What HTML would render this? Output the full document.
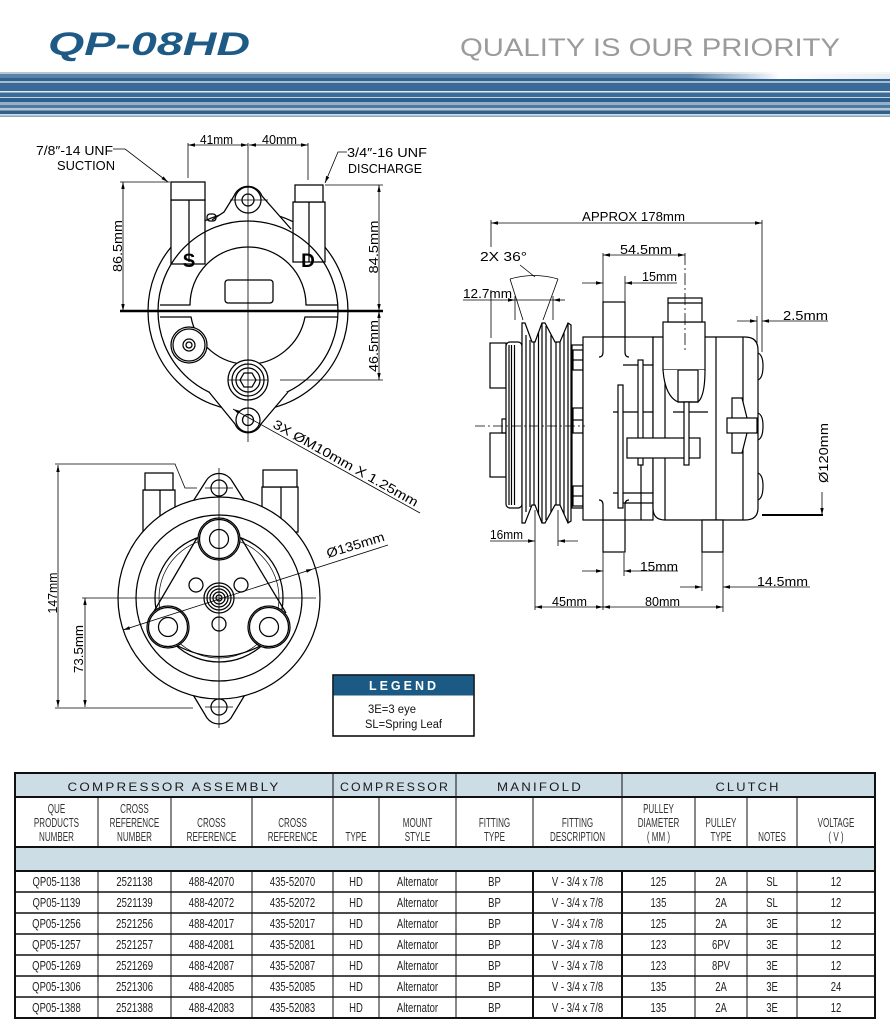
<!DOCTYPE html>
<html><head><meta charset="utf-8">
<style>
html,body{margin:0;padding:0;background:#fff;}
svg{display:block;}
text{font-family:"Liberation Sans",sans-serif;}
.dm{font-size:13px;fill:#000;stroke:none;}
.sh{font-size:13px;fill:#333;stroke:none;text-anchor:middle;}
.dt{font-size:12.5px;fill:#222;stroke:none;text-anchor:middle;}
.gh{font-size:12px;fill:#1a1a1a;stroke:none;text-anchor:middle;letter-spacing:2px;}
</style></head><body>
<svg width="890" height="1035" viewBox="0 0 890 1035" xmlns="http://www.w3.org/2000/svg">
<defs>
<marker id="ar" markerWidth="7" markerHeight="4" refX="7" refY="2" orient="auto-start-reverse" markerUnits="userSpaceOnUse"><path d="M0,0.3 L7,2 L0,3.7z" fill="#000"/></marker>
<linearGradient id="fade" x1="0" x2="1" y1="0" y2="0"><stop offset="0" stop-color="#fff" stop-opacity="0"/><stop offset="0.45" stop-color="#fff" stop-opacity="1"/><stop offset="1" stop-color="#fff" stop-opacity="0.85"/></linearGradient>
</defs>

<!-- HEADER -->
<text x="48" y="55" font-size="32" font-weight="bold" font-style="italic" fill="#1d5a86" textLength="202" lengthAdjust="spacingAndGlyphs">QP-08HD</text>
<text x="460" y="56" font-size="25" fill="#9b9b9b" textLength="380" lengthAdjust="spacingAndGlyphs">QUALITY IS OUR PRIORITY</text>
<g>
<rect x="0" y="72" width="890" height="2" fill="#b5c6d4"/>
<rect x="0" y="74" width="890" height="4" fill="#5d82a6"/>
<rect x="0" y="78" width="890" height="3" fill="#2f6192"/>
<rect x="0" y="81" width="890" height="2" fill="#a9bdcd"/>
<rect x="0" y="83" width="890" height="8" fill="#3a6a98"/>
<rect x="0" y="91" width="890" height="1.5" fill="#e2eaf0"/>
<rect x="0" y="92.5" width="890" height="4.5" fill="#3b6b97"/>
<rect x="0" y="97" width="890" height="1" fill="#c4d2de"/>
<rect x="0" y="98" width="890" height="4" fill="#2d5f8e"/>
<rect x="0" y="102" width="890" height="3" fill="#98b0c5"/>
<rect x="0" y="105" width="890" height="3" fill="#4e79a0"/>
<rect x="0" y="108" width="890" height="2.5" fill="#b5c6d3"/>
<rect x="0" y="110.5" width="890" height="3.5" fill="#2f608d"/>
<rect x="0" y="114" width="890" height="1.5" fill="#d0dbe4"/>
<rect x="0" y="115.5" width="890" height="1.5" fill="#8ea8bf"/>
<rect x="690" y="70" width="200" height="9" fill="url(#fade)"/>
</g>

<!-- TOP-LEFT VIEW -->
<g fill="none" stroke="#000" stroke-width="1.25">
<circle cx="248" cy="311" r="100"/>
<path d="M212 220 L224 212 L234 196 A15 15 0 0 1 262 196 L291 229" fill="#fff"/>
<circle cx="248" cy="200" r="13"/>
<circle cx="248" cy="200" r="6"/>
<line x1="230" y1="200" x2="268" y2="200" stroke-width="0.7"/>
<rect x="171" y="200" width="34" height="64" fill="#fff"/>
<rect x="171" y="182" width="34" height="18" fill="#fff"/>
<line x1="189" y1="200" x2="189" y2="262"/>
<rect x="293" y="202" width="32" height="60" fill="#fff"/>
<rect x="295" y="185" width="28" height="17" fill="#fff"/>
<line x1="309" y1="202" x2="309" y2="262"/>
<rect x="207" y="214" width="9" height="7" rx="3"/>
<circle cx="248" cy="311" r="90"/>
<path d="M160 305 L190 305 A58 58 0 0 1 306 305 L338 305"/>
<path d="M160 317 L191 317 A58 58 0 0 0 305 317 L338 317"/>
<rect x="225" y="280" width="48" height="23" rx="3"/>
<circle cx="189" cy="345" r="18" fill="#fff"/>
<circle cx="189" cy="345" r="16"/>
<circle cx="189" cy="345" r="6"/>
<circle cx="189" cy="345" r="3"/>
<path d="M209 392 L235 424 A14 14 0 0 0 261 424 L288 392" fill="#fff"/>
<circle cx="248" cy="380" r="20" fill="#fff"/>
<circle cx="248" cy="380" r="16"/>
<circle cx="248" cy="380" r="12"/>
<polygon points="256,380 252,387 244,387 240,380 244,373 252,373"/>
<line x1="228" y1="380" x2="268" y2="380" stroke-width="0.7"/>
<circle cx="248" cy="420" r="12" fill="#fff"/>
<circle cx="248" cy="420" r="5.5"/>
<line x1="248" y1="143" x2="248" y2="442" stroke-width="0.8"/>
<line x1="120" y1="311" x2="383" y2="311" stroke-width="2.4"/>
<!-- dims -->
<line x1="188" y1="143" x2="188" y2="178" stroke-width="0.8"/>
<line x1="308" y1="143" x2="308" y2="180" stroke-width="0.8"/>
<line x1="188" y1="145" x2="248" y2="145" stroke-width="0.8" marker-start="url(#ar)" marker-end="url(#ar)"/>
<line x1="249" y1="145" x2="308" y2="145" stroke-width="0.8" marker-start="url(#ar)" marker-end="url(#ar)"/>
<line x1="120" y1="182" x2="170" y2="182" stroke-width="0.8"/>
<line x1="123" y1="182" x2="123" y2="311" stroke-width="0.8" marker-start="url(#ar)" marker-end="url(#ar)"/>
<line x1="325" y1="185" x2="383" y2="185" stroke-width="0.8"/>
<line x1="379" y1="185" x2="379" y2="311" stroke-width="0.8" marker-start="url(#ar)" marker-end="url(#ar)"/>
<line x1="280" y1="380" x2="383" y2="380" stroke-width="0.8"/>
<line x1="379" y1="311" x2="379" y2="380" stroke-width="0.8" marker-start="url(#ar)" marker-end="url(#ar)"/>
<polyline points="113,149 125,149 168,182" stroke-width="0.8" marker-end="url(#ar)"/>
<polyline points="347,152 338,152 325,183" stroke-width="0.8" marker-end="url(#ar)"/>
<line x1="233" y1="409" x2="420" y2="513" stroke-width="0.8" marker-start="url(#ar)"/>
</g>
<g class="dm">
<text class="dm" x="36" y="155" textLength="77" lengthAdjust="spacingAndGlyphs">7/8″-14 UNF</text>
<text class="dm" x="57" y="170" textLength="58" lengthAdjust="spacingAndGlyphs">SUCTION</text>
<text class="dm" x="200" y="144" textLength="33" lengthAdjust="spacingAndGlyphs">41mm</text>
<text class="dm" x="262" y="144" textLength="35" lengthAdjust="spacingAndGlyphs">40mm</text>
<text class="dm" x="347" y="157" textLength="80" lengthAdjust="spacingAndGlyphs">3/4″-16 UNF</text>
<text class="dm" x="348" y="173" textLength="74" lengthAdjust="spacingAndGlyphs">DISCHARGE</text>
<text x="189" y="267" font-size="19" font-weight="bold" text-anchor="middle" fill="#000">S</text>
<text x="308" y="267" font-size="19" font-weight="bold" text-anchor="middle" fill="#000">D</text>
<text class="dm" transform="translate(122,246) rotate(-90)" text-anchor="middle" textLength="52" lengthAdjust="spacingAndGlyphs">86.5mm</text>
<text class="dm" transform="translate(378,247) rotate(-90)" text-anchor="middle" textLength="53" lengthAdjust="spacingAndGlyphs">84.5mm</text>
<text class="dm" transform="translate(378,346) rotate(-90)" text-anchor="middle" textLength="52" lengthAdjust="spacingAndGlyphs">46.5mm</text>
<text class="dm" transform="translate(272,427) rotate(29.2)" textLength="164" lengthAdjust="spacingAndGlyphs">3X ØM10mm X 1.25mm</text>
</g>

<!-- BOTTOM-LEFT VIEW -->
<g fill="none" stroke="#000" stroke-width="1.25">
<rect x="143" y="490" width="32" height="42" fill="#fff"/>
<rect x="145" y="473" width="28" height="17" fill="#fff"/>
<line x1="160" y1="490" x2="160" y2="532"/>
<rect x="262" y="487" width="36" height="45" fill="#fff"/>
<rect x="263" y="470" width="34" height="17" fill="#fff"/>
<line x1="281" y1="487" x2="281" y2="532"/>
<path d="M192 503 L206 481 A15 15 0 0 1 232 481 L246 503" fill="#fff"/>
<path d="M192 693 L207 718 A15 15 0 0 0 231 718 L246 693" fill="#fff"/>
<circle cx="219" cy="598" r="101" fill="#fff"/>
<circle cx="219" cy="598" r="83"/>
<circle cx="219" cy="598" r="64"/>
<circle cx="219" cy="598" r="60" stroke-width="0.7"/>
<line x1="197" y1="538" x2="153" y2="613"/>
<line x1="241" y1="538" x2="286" y2="613"/>
<path d="M176 645 Q219 668 262 645"/>
<circle cx="219" cy="539" r="21" fill="#fff"/>
<circle cx="219" cy="539" r="19.5"/>
<circle cx="219" cy="539" r="9.5"/>
<circle cx="168" cy="627" r="21" fill="#fff"/>
<circle cx="168" cy="627" r="19.5"/>
<circle cx="168" cy="627" r="9.5"/>
<circle cx="269" cy="627" r="21" fill="#fff"/>
<circle cx="269" cy="627" r="19.5"/>
<circle cx="269" cy="627" r="9.5"/>
<circle cx="196" cy="585" r="7"/>
<circle cx="241" cy="585" r="7"/>
<circle cx="219" cy="624" r="7"/>
<circle cx="219" cy="598" r="15" fill="#fff"/>
<circle cx="219" cy="598" r="12"/>
<circle cx="219" cy="598" r="9"/>
<circle cx="219" cy="598" r="6"/>
<circle cx="219" cy="598" r="3"/>
<circle cx="219" cy="488" r="8" fill="#fff"/>
<circle cx="219" cy="707" r="8" fill="#fff"/>
<line x1="219" y1="468" x2="219" y2="728" stroke-width="0.8"/>
<line x1="82" y1="598" x2="316" y2="598" stroke-width="0.8"/>
<line x1="205" y1="488" x2="233" y2="488" stroke-width="0.7"/>
<line x1="205" y1="707" x2="233" y2="707" stroke-width="0.7"/>
<polyline points="55,464 175,464 185,488 197,488" stroke-width="0.8"/>
<line x1="58" y1="465" x2="58" y2="707" stroke-width="0.8" marker-start="url(#ar)" marker-end="url(#ar)"/>
<line x1="55" y1="708" x2="193" y2="708" stroke-width="0.8"/>
<line x1="85" y1="598" x2="85" y2="707" stroke-width="0.8" marker-start="url(#ar)" marker-end="url(#ar)"/>
<line x1="123" y1="630" x2="313" y2="569" stroke-width="0.8" marker-start="url(#ar)" marker-end="url(#ar)"/>
<line x1="313" y1="569" x2="388" y2="545" stroke-width="0.8"/>
</g>
<text class="dm" transform="translate(57,593) rotate(-90)" text-anchor="middle" textLength="41" lengthAdjust="spacingAndGlyphs">147mm</text>
<text class="dm" transform="translate(83,649) rotate(-90)" text-anchor="middle" textLength="48" lengthAdjust="spacingAndGlyphs">73.5mm</text>
<text class="dm" transform="translate(328,558) rotate(-17)" textLength="60" lengthAdjust="spacingAndGlyphs">Ø135mm</text>

<!-- LEGEND -->
<rect x="333" y="675" width="141" height="61" fill="#fff" stroke="#000" stroke-width="1.5"/>
<rect x="333.5" y="675.5" width="140" height="20" fill="#1b5a84"/>
<text x="404" y="690" font-size="12.5" font-weight="bold" fill="#fff" text-anchor="middle" letter-spacing="3">LEGEND</text>
<text x="368" y="713" font-size="11.5" fill="#111" textLength="48" lengthAdjust="spacingAndGlyphs">3E=3 eye</text>
<text x="365" y="728" font-size="11.5" fill="#111" textLength="77" lengthAdjust="spacingAndGlyphs">SL=Spring Leaf</text>

<!-- RIGHT VIEW -->
<g fill="none" stroke="#000" stroke-width="1.2">
<rect x="490" y="343" width="16" height="45" fill="#fff"/>
<rect x="490" y="433" width="16" height="44" fill="#fff"/>
<rect x="502" y="419" width="4" height="14"/>
<rect x="506" y="342" width="16" height="166" rx="4" fill="#fff"/>
<line x1="509" y1="345" x2="509" y2="505"/>
<line x1="511.5" y1="345" x2="511.5" y2="505"/>
<line x1="514.5" y1="345" x2="514.5" y2="505"/>
<path d="M522 323 L525 323 L532 342 L535 342 L542 323 L545 323 L555 342 L560 342 L568 323 L571 325 L571 521 L568 523 L560 505 L555 505 L545 523 L542 523 L535 505 L532 505 L525 523 L522 523 Z" fill="#fff"/>
<line x1="526" y1="335" x2="526" y2="512"/>
<line x1="530" y1="340" x2="530" y2="507"/>
<line x1="534" y1="342" x2="534" y2="505"/>
<line x1="538.5" y1="332" x2="538.5" y2="515"/>
<line x1="542" y1="323" x2="542" y2="523"/>
<line x1="546" y1="326" x2="546" y2="520"/>
<line x1="551" y1="335" x2="551" y2="512"/>
<line x1="556" y1="342" x2="556" y2="505"/>
<line x1="560" y1="342" x2="560" y2="505"/>
<line x1="564" y1="333" x2="564" y2="514"/>
<line x1="568" y1="323" x2="568" y2="523"/>
<rect x="572" y="345" width="11" height="163" fill="#fff"/>
<rect x="573" y="350" width="10" height="20"/>
<rect x="573" y="408" width="10" height="25"/>
<rect x="573" y="486" width="10" height="20"/>
<line x1="573" y1="360" x2="583" y2="360"/>
<line x1="573" y1="420" x2="583" y2="420"/>
<line x1="573" y1="496" x2="583" y2="496"/>
<rect x="603" y="302" width="22" height="35" fill="#fff"/>
<rect x="603" y="520" width="22" height="32" fill="#fff"/>
<rect x="583" y="337" width="70" height="183" fill="#fff"/>
<path d="M603 337 L603 352 Q603 357 599 357"/>
<path d="M625 337 L625 352 Q625 357 629 357"/>
<path d="M603 520 L603 505 Q603 500 599 500"/>
<path d="M625 520 L625 505 Q625 500 629 500"/>
<line x1="623" y1="365" x2="653" y2="365"/>
<line x1="613" y1="412" x2="653" y2="412"/>
<line x1="613" y1="493" x2="653" y2="493"/>
<line x1="623" y1="503" x2="653" y2="503"/>
<rect x="618" y="385" width="5" height="123" fill="#fff"/>
<rect x="638" y="360" width="5" height="105" fill="#fff"/>
<line x1="641" y1="465" x2="641" y2="520"/>
<path d="M653 337 L745 337 Q758 337 758 350 L758 508 Q758 520 745 520 L665 520 Q653 520 653 508 Z" fill="#fff"/>
<line x1="665" y1="337" x2="665" y2="520"/>
<line x1="716" y1="337" x2="716" y2="520"/>
<line x1="743" y1="337" x2="743" y2="520"/>
<path d="M758 353 Q763 355 763 366 Q763 378 758 380"/>
<path d="M758 413 Q763 415 763 426 Q763 438 758 440"/>
<path d="M758 473 Q763 475 763 486 Q763 498 758 500"/>
<rect x="627" y="438" width="73" height="20" fill="#fff"/>
<line x1="673" y1="412" x2="708" y2="412"/>
<rect x="663" y="322" width="42" height="48" fill="#fff"/>
<rect x="668" y="298" width="34" height="24" fill="#fff"/>
<line x1="668" y1="303" x2="702" y2="303"/>
<path d="M663 370 Q665 396 678 402 L698 402 Q705 396 705 370" fill="#fff"/>
<rect x="678" y="370" width="20" height="32"/>
<rect x="684" y="402" width="5" height="63" fill="#fff"/>
<polygon points="732,398 742,398 747,418 747,433 742,453 732,453" fill="#fff"/>
<rect x="727" y="418" width="30" height="15" fill="#fff"/>
<rect x="702" y="520" width="21" height="32" fill="#fff"/>
<line x1="475" y1="426" x2="585" y2="426" stroke-width="0.8" stroke-dasharray="10 3 2 3"/>
<line x1="685" y1="253" x2="685" y2="350" stroke-width="0.8" stroke-dasharray="12 3 2 3"/>
<!-- dims -->
<line x1="491" y1="223" x2="762" y2="223" stroke-width="0.8" marker-start="url(#ar)" marker-end="url(#ar)"/>
<line x1="491" y1="220" x2="491" y2="247" stroke-width="0.8"/>
<line x1="491" y1="290" x2="491" y2="338" stroke-width="0.8"/>
<line x1="762" y1="220" x2="762" y2="352" stroke-width="0.8"/>
<line x1="520" y1="265" x2="535" y2="277" stroke-width="0.8"/>
<path d="M510 279 Q534 272 558 279" stroke-width="0.8"/>
<line x1="510" y1="279" x2="523" y2="320" stroke-width="0.8"/>
<line x1="558" y1="279" x2="543" y2="320" stroke-width="0.8"/>
<line x1="463" y1="300" x2="515" y2="300" stroke-width="0.8" marker-end="url(#ar)"/>
<line x1="565" y1="300" x2="553" y2="300" stroke-width="0.8" marker-end="url(#ar)"/>
<line x1="515" y1="300" x2="553" y2="300" stroke-width="0.8"/>
<line x1="515" y1="296" x2="515" y2="320" stroke-width="0.8"/>
<line x1="553" y1="296" x2="553" y2="320" stroke-width="0.8"/>
<line x1="603" y1="255" x2="685" y2="255" stroke-width="0.8" marker-start="url(#ar)" marker-end="url(#ar)"/>
<line x1="603" y1="253" x2="603" y2="302" stroke-width="0.8"/>
<line x1="582" y1="283" x2="603" y2="283" stroke-width="0.8" marker-end="url(#ar)"/>
<line x1="677" y1="283" x2="625" y2="283" stroke-width="0.8" marker-end="url(#ar)"/>
<line x1="625" y1="276" x2="625" y2="302" stroke-width="0.8"/>
<line x1="737" y1="321" x2="757" y2="321" stroke-width="0.8" marker-end="url(#ar)"/>
<line x1="828" y1="321" x2="762" y2="321" stroke-width="0.8" marker-end="url(#ar)"/>
<line x1="757" y1="316" x2="757" y2="345" stroke-width="0.8"/>
<line x1="822" y1="492" x2="822" y2="515" stroke-width="0.8" marker-end="url(#ar)"/>
<line x1="762" y1="515" x2="823" y2="515" stroke-width="2"/>
<line x1="535" y1="510" x2="535" y2="610" stroke-width="0.8"/>
<line x1="558" y1="510" x2="558" y2="546" stroke-width="0.8"/>
<line x1="490" y1="541" x2="535" y2="541" stroke-width="0.8" marker-end="url(#ar)"/>
<line x1="578" y1="541" x2="558" y2="541" stroke-width="0.8" marker-end="url(#ar)"/>
<line x1="603" y1="552" x2="603" y2="610" stroke-width="0.8"/>
<line x1="624" y1="553" x2="624" y2="576" stroke-width="0.8"/>
<line x1="582" y1="571" x2="603" y2="571" stroke-width="0.8" marker-end="url(#ar)"/>
<line x1="678" y1="571" x2="624" y2="571" stroke-width="0.8" marker-end="url(#ar)"/>
<line x1="702" y1="552" x2="702" y2="591" stroke-width="0.8"/>
<line x1="723" y1="522" x2="723" y2="612" stroke-width="0.8"/>
<line x1="680" y1="587" x2="702" y2="587" stroke-width="0.8" marker-end="url(#ar)"/>
<line x1="810" y1="587" x2="723" y2="587" stroke-width="0.8" marker-end="url(#ar)"/>
<line x1="535" y1="607" x2="603" y2="607" stroke-width="0.8" marker-start="url(#ar)" marker-end="url(#ar)"/>
<line x1="603" y1="607" x2="723" y2="607" stroke-width="0.8" marker-start="url(#ar)" marker-end="url(#ar)"/>
</g>
<text class="dm" x="582" y="221" textLength="103" lengthAdjust="spacingAndGlyphs">APPROX 178mm</text>
<text class="dm" x="480" y="261" textLength="47" lengthAdjust="spacingAndGlyphs">2X 36°</text>
<text class="dm" x="463" y="298" textLength="49" lengthAdjust="spacingAndGlyphs">12.7mm</text>
<text class="dm" x="620" y="254" textLength="52" lengthAdjust="spacingAndGlyphs">54.5mm</text>
<text class="dm" x="642" y="281" textLength="35" lengthAdjust="spacingAndGlyphs">15mm</text>
<text class="dm" x="783" y="320" textLength="45" lengthAdjust="spacingAndGlyphs">2.5mm</text>
<text class="dm" transform="translate(828,453) rotate(-90)" text-anchor="middle" textLength="60" lengthAdjust="spacingAndGlyphs">Ø120mm</text>
<text class="dm" x="490" y="539" textLength="33" lengthAdjust="spacingAndGlyphs">16mm</text>
<text class="dm" x="640" y="571" textLength="38" lengthAdjust="spacingAndGlyphs">15mm</text>
<text class="dm" x="757" y="586" textLength="51" lengthAdjust="spacingAndGlyphs">14.5mm</text>
<text class="dm" x="552" y="606" textLength="35" lengthAdjust="spacingAndGlyphs">45mm</text>
<text class="dm" x="645" y="606" textLength="35" lengthAdjust="spacingAndGlyphs">80mm</text>

<!-- TABLE -->
<rect x="15" y="773" width="860" height="24" fill="#cddde6"/>
<rect x="15" y="847" width="860" height="24" fill="#cddde6"/>
<g stroke="#111" fill="none">
<line x1="15" y1="797" x2="875" y2="797" stroke-width="2"/>
<line x1="15" y1="847" x2="875" y2="847" stroke-width="2"/>
<line x1="15" y1="871" x2="875" y2="871" stroke-width="2"/>
<g stroke-width="1.4">
<line x1="15" y1="892" x2="875" y2="892"/>
<line x1="15" y1="913" x2="875" y2="913"/>
<line x1="15" y1="934" x2="875" y2="934"/>
<line x1="15" y1="955" x2="875" y2="955"/>
<line x1="15" y1="976" x2="875" y2="976"/>
<line x1="15" y1="997" x2="875" y2="997"/>
</g>
<g stroke-width="1">
<line x1="333" y1="773" x2="333" y2="797"/>
<line x1="456" y1="773" x2="456" y2="797"/>
<line x1="622" y1="773" x2="622" y2="797"/>
<path d="M98 797V847M171 797V847M252 797V847M333 797V847M379 797V847M456 797V847M533 797V847M622 797V847M695 797V847M747 797V847M797 797V847"/>
<path d="M98 871V1018M171 871V1018M252 871V1018M333 871V1018M379 871V1018M456 871V1018M695 871V1018M747 871V1018M797 871V1018"/>
<path d="M533 871V1018M622 871V1018" stroke-width="2"/>
</g>
<rect x="15" y="773" width="860" height="245" stroke-width="2"/>
</g>
<text class="gh" x="174" y="791" textLength="213" lengthAdjust="spacingAndGlyphs">COMPRESSOR ASSEMBLY</text>
<text class="gh" x="395" y="791" textLength="110" lengthAdjust="spacingAndGlyphs">COMPRESSOR</text>
<text class="gh" x="540" y="791" textLength="86" lengthAdjust="spacingAndGlyphs">MANIFOLD</text>
<text class="gh" x="748" y="791" textLength="65" lengthAdjust="spacingAndGlyphs">CLUTCH</text>

<g transform="scale(0.62,1)">
<text class="sh" x="91.1" y="813">QUE</text>
<text class="sh" x="91.1" y="827">PRODUCTS</text>
<text class="sh" x="91.1" y="841">NUMBER</text>
<text class="sh" x="216.9" y="813">CROSS</text>
<text class="sh" x="216.9" y="827">REFERENCE</text>
<text class="sh" x="216.9" y="841">NUMBER</text>
<text class="sh" x="341.1" y="827">CROSS</text>
<text class="sh" x="341.1" y="841">REFERENCE</text>
<text class="sh" x="471.8" y="827">CROSS</text>
<text class="sh" x="471.8" y="841">REFERENCE</text>
<text class="sh" x="574.2" y="841">TYPE</text>
<text class="sh" x="673.4" y="827">MOUNT</text>
<text class="sh" x="673.4" y="841">STYLE</text>
<text class="sh" x="797.6" y="827">FITTING</text>
<text class="sh" x="797.6" y="841">TYPE</text>
<text class="sh" x="931.5" y="827">FITTING</text>
<text class="sh" x="931.5" y="841">DESCRIPTION</text>
<text class="sh" x="1062.1" y="813">PULLEY</text>
<text class="sh" x="1062.1" y="827">DIAMETER</text>
<text class="sh" x="1062.1" y="841">( MM )</text>
<text class="sh" x="1162.9" y="827">PULLEY</text>
<text class="sh" x="1162.9" y="841">TYPE</text>
<text class="sh" x="1245.2" y="841">NOTES</text>
<text class="sh" x="1348.4" y="827">VOLTAGE</text>
<text class="sh" x="1348.4" y="841">( V )</text>
</g>

<g transform="scale(0.76,1)">
<g transform="translate(0,886)">
<text class="dt" x="74.3">QP05-1138</text><text class="dt" x="177">2521138</text><text class="dt" x="278.3">488-42070</text><text class="dt" x="384.9">435-52070</text><text class="dt" x="468.4">HD</text><text class="dt" x="549.3">Alternator</text><text class="dt" x="650.7">BP</text><text class="dt" x="759.9">V - 3/4 x 7/8</text><text class="dt" x="866.4">125</text><text class="dt" x="948.7">2A</text><text class="dt" x="1015.8">SL</text><text class="dt" x="1100">12</text>
</g>
<g transform="translate(0,907)">
<text class="dt" x="74.3">QP05-1139</text><text class="dt" x="177">2521139</text><text class="dt" x="278.3">488-42072</text><text class="dt" x="384.9">435-52072</text><text class="dt" x="468.4">HD</text><text class="dt" x="549.3">Alternator</text><text class="dt" x="650.7">BP</text><text class="dt" x="759.9">V - 3/4 x 7/8</text><text class="dt" x="866.4">135</text><text class="dt" x="948.7">2A</text><text class="dt" x="1015.8">SL</text><text class="dt" x="1100">12</text>
</g>
<g transform="translate(0,928)">
<text class="dt" x="74.3">QP05-1256</text><text class="dt" x="177">2521256</text><text class="dt" x="278.3">488-42017</text><text class="dt" x="384.9">435-52017</text><text class="dt" x="468.4">HD</text><text class="dt" x="549.3">Alternator</text><text class="dt" x="650.7">BP</text><text class="dt" x="759.9">V - 3/4 x 7/8</text><text class="dt" x="866.4">125</text><text class="dt" x="948.7">2A</text><text class="dt" x="1015.8">3E</text><text class="dt" x="1100">12</text>
</g>
<g transform="translate(0,949)">
<text class="dt" x="74.3">QP05-1257</text><text class="dt" x="177">2521257</text><text class="dt" x="278.3">488-42081</text><text class="dt" x="384.9">435-52081</text><text class="dt" x="468.4">HD</text><text class="dt" x="549.3">Alternator</text><text class="dt" x="650.7">BP</text><text class="dt" x="759.9">V - 3/4 x 7/8</text><text class="dt" x="866.4">123</text><text class="dt" x="948.7">6PV</text><text class="dt" x="1015.8">3E</text><text class="dt" x="1100">12</text>
</g>
<g transform="translate(0,970)">
<text class="dt" x="74.3">QP05-1269</text><text class="dt" x="177">2521269</text><text class="dt" x="278.3">488-42087</text><text class="dt" x="384.9">435-52087</text><text class="dt" x="468.4">HD</text><text class="dt" x="549.3">Alternator</text><text class="dt" x="650.7">BP</text><text class="dt" x="759.9">V - 3/4 x 7/8</text><text class="dt" x="866.4">123</text><text class="dt" x="948.7">8PV</text><text class="dt" x="1015.8">3E</text><text class="dt" x="1100">12</text>
</g>
<g transform="translate(0,991)">
<text class="dt" x="74.3">QP05-1306</text><text class="dt" x="177">2521306</text><text class="dt" x="278.3">488-42085</text><text class="dt" x="384.9">435-52085</text><text class="dt" x="468.4">HD</text><text class="dt" x="549.3">Alternator</text><text class="dt" x="650.7">BP</text><text class="dt" x="759.9">V - 3/4 x 7/8</text><text class="dt" x="866.4">135</text><text class="dt" x="948.7">2A</text><text class="dt" x="1015.8">3E</text><text class="dt" x="1100">24</text>
</g>
<g transform="translate(0,1012)">
<text class="dt" x="74.3">QP05-1388</text><text class="dt" x="177">2521388</text><text class="dt" x="278.3">488-42083</text><text class="dt" x="384.9">435-52083</text><text class="dt" x="468.4">HD</text><text class="dt" x="549.3">Alternator</text><text class="dt" x="650.7">BP</text><text class="dt" x="759.9">V - 3/4 x 7/8</text><text class="dt" x="866.4">135</text><text class="dt" x="948.7">2A</text><text class="dt" x="1015.8">3E</text><text class="dt" x="1100">12</text>
</g>
</g>
</svg>
</body></html>
